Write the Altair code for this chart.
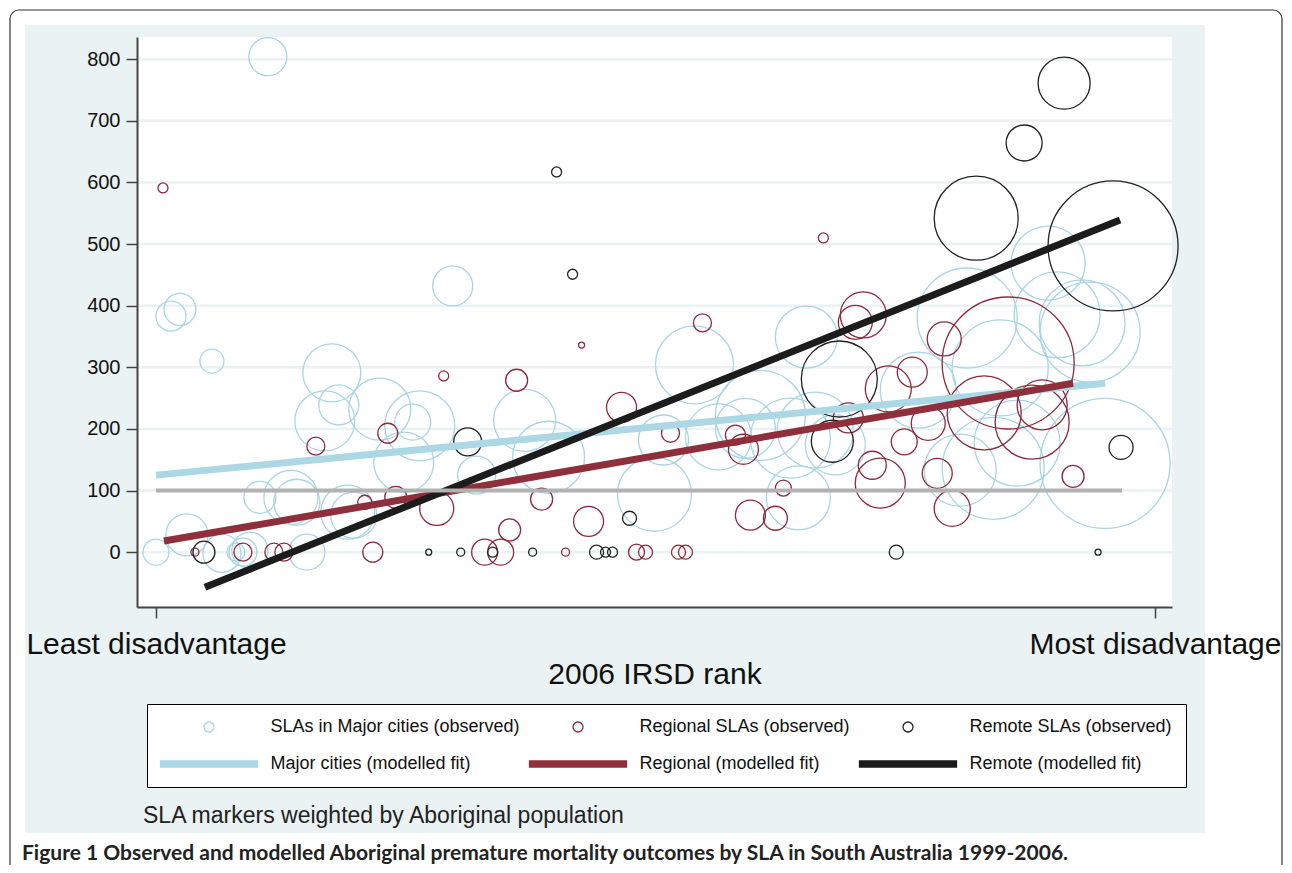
import json
import altair as alt
import pandas as pd

# ---------------- data ----------------
# x: IRSD rank on a 0-100 scale (0 = least disadvantage), y: premature mortality,
# pop: Aboriginal population weight (marker area)
major_x = [11.2, 2.4, 1.5, 29.7, 5.6, 17.6, 16.9, 18.3, 22.4, 25.7, 26.4, 24.8, 10.4, 13.5, 14.1,
           19.2, 19.8, 3.1, 0.0, 6.6, 8.7, 9.4, 15.1, 8.0, 36.9, 39.3, 32.1, 50.8, 49.9, 53.9,
           65.1, 56.3, 59.0, 60.5, 63.5, 66.0, 68.0, 64.3, 76.3, 81.2, 84.5, 89.3, 90.2, 92.7,
           93.5, 95.0, 83.8, 80.5, 86.2]
major_y = [804, 394, 383, 432, 310, 291, 213, 239, 232, 211, 205, 146, 89, 89, 81,
           65, 60, 28, 0, -2, 0, 3, 0, 0, 214, 154, 125, 182, 94, 304,
           349, 187, 201, 222, 185, 198, 174, 88, 263, 380, 299, 469, 385, 372,
           357, 144, 136, 133, 177]
major_pop = [361, 256, 225, 400, 144, 841, 900, 400, 961, 324, 1225, 900, 256, 729, 529,
             729, 529, 441, 169, 361, 196, 324, 324, 81, 961, 1296, 361, 625, 1369, 1521,
             961, 1089, 900, 2025, 1600, 1444, 900, 1024, 1444, 2500, 2304, 1369, 1849, 1849,
             2500, 4225, 2601, 1296, 1849]

regional_x = [0.7, 3.9, 8.7, 11.8, 12.8, 16.0, 23.2, 21.7, 20.9, 24.0, 28.8, 36.1, 42.6, 28.1,
              38.6, 35.4, 32.9, 34.5, 43.3, 41.0, 46.6, 48.1, 49.0, 51.5, 54.7, 52.3, 53.0,
              58.0, 58.8, 59.5, 62.0, 62.8, 66.8, 69.3, 70.8, 70.0, 71.7, 72.5, 73.3, 75.7,
              74.9, 78.9, 77.3, 78.2, 79.7, 85.3, 82.9, 87.7, 88.7, 91.8]
regional_y = [591, 0, 0, 0, 0, 172, 193, 0, 81, 89, 286, 279, 336, 71,
              86, 36, 0, 0, 50, 0, 235, 0, 0, 193, 372, 0, 0,
              190, 167, 60, 55, 104, 510, 218, 385, 373, 141, 112, 265, 292,
              179, 346, 209, 128, 71, 307, 226, 211, 239, 123]
regional_pop = [25, 16, 81, 81, 81, 81, 100, 100, 49, 121, 25, 121, 9, 289,
                121, 121, 169, 169, 225, 16, 225, 64, 49, 81, 81, 49, 49,
                100, 225, 225, 144, 64, 25, 225, 529, 289, 196, 625, 529, 225,
                169, 289, 289, 225, 324, 4356, 1369, 1369, 625, 121]

remote_x = [4.8, 31.2, 40.1, 41.7, 47.4, 27.3, 30.5, 33.7, 37.7, 44.1, 45.0, 45.7, 74.1, 94.3,
            96.6, 68.4, 67.7, 82.1, 86.9, 90.9, 95.8]
remote_y = [0, 179, 617, 451, 55, 0, 0, 0, 0, 0, 0, 0, 0, 0,
            170, 281, 180, 542, 664, 761, 497]
remote_pop = [121, 196, 25, 25, 49, 9, 16, 25, 16, 49, 25, 25, 49, 9,
              144, 1444, 441, 1764, 324, 676, 4225]

# modelled fits (end points of the straight fitted lines)
fit_major_x = [0.0, 95.0]
fit_major_y = [125, 274]
fit_regional_x = [0.8, 91.8]
fit_regional_y = [18, 274]
fit_remote_x = [4.9, 96.5]
fit_remote_y = [-57, 539]

# reference line at 100
ref_x = [0.0, 96.7]
ref_y = [100, 100]

y_ticks = [0, 100, 200, 300, 400, 500, 600, 700, 800]
x_ticks = [0, 100]
x_tick_labels = ["Least disadvantage", "Most disadvantage"]

obs_series = ["SLAs in Major cities (observed)", "Regional SLAs (observed)", "Remote SLAs (observed)"]
fit_series = ["Major cities (modelled fit)", "Regional (modelled fit)", "Remote (modelled fit)"]
# legend order (filled column by column: observed above modelled fit)
series = [obs_series[0], fit_series[0], obs_series[1], fit_series[1], obs_series[2], fit_series[2]]

note_text = "SLA markers weighted by Aboriginal population"
caption_text = ("Figure 1 Observed and modelled Aboriginal premature mortality outcomes by SLA "
                "in South Australia 1999-2006.")

# ---------------- tables ----------------
obs = pd.concat([
    pd.DataFrame({"rank": major_x, "rate": major_y, "pop": major_pop, "series": obs_series[0]}),
    pd.DataFrame({"rank": regional_x, "rate": regional_y, "pop": regional_pop, "series": obs_series[1]}),
    pd.DataFrame({"rank": remote_x, "rate": remote_y, "pop": remote_pop, "series": obs_series[2]}),
], ignore_index=True)

fits = pd.concat([
    pd.DataFrame({"rank": fit_major_x, "rate": fit_major_y, "series": fit_series[0]}),
    pd.DataFrame({"rank": fit_regional_x, "rate": fit_regional_y, "series": fit_series[1]}),
    pd.DataFrame({"rank": fit_remote_x, "rate": fit_remote_y, "series": fit_series[2]}),
], ignore_index=True)

ref = pd.DataFrame({"rank": ref_x, "rate": ref_y})
grid = pd.DataFrame({"rate": y_ticks})
one = pd.DataFrame({"k": [0]})

# ---------------- styling ----------------
W, H = 1035, 570
PANEL = "#eaf2f3"
LB_C, RED_C, BLK_C = "#a9d5e4", "#8e2a3c", "#222222"
LB_L, RED_L, BLK_L = "#acd8e6", "#8f2f3b", "#1c1c1c"
FONT = "Liberation Sans"
LINE_PATH = "M-9.7,-0.6H9.7V0.6H-9.7Z"

x_scale = alt.Scale(domain=[-1.9, 101.7], nice=False, zero=False)
y_scale = alt.Scale(domain=[-89, 836], nice=False, zero=False)

x_axis = alt.Axis(values=x_ticks, grid=False, title="2006 IRSD rank",
                  labelExpr=f"{json.dumps(x_tick_labels)}[datum.value == 0 ? 0 : 1]",
                  labelFont=FONT, labelFontSize=30, labelColor="#111", labelPadding=11,
                  labelOverlap=False, labelFlush=False, labelBound=False, labelLimit=600,
                  tickSize=11, tickColor="#444", tickWidth=1.5,
                  domainColor="#444", domainWidth=2,
                  titleFont=FONT, titleFontSize=30, titleFontWeight="normal",
                  titleColor="#111", titlePadding=0, zindex=1)
y_axis = alt.Axis(values=y_ticks, grid=False, title=None,
                  labelFont=FONT, labelFontSize=20, labelColor="#111", labelPadding=6,
                  tickSize=11, tickColor="#444", tickWidth=1.5,
                  domainColor="#444", domainWidth=2, zindex=1)

legend = alt.Legend(title=None, orient="none", legendX=10, legendY=667, columns=3,
                    columnPadding=6, rowPadding=19, padding=14,
                    strokeColor="#000", fillColor="white",
                    labelFont=FONT, labelFontSize=18, labelColor="#111", labelLimit=500,
                    symbolSize=100, symbolStrokeWidth=1.3, symbolOffset=39,
                    labelOffset=52.5)

stroke_scale = alt.Scale(domain=series, range=[LB_C, LB_L, RED_C, RED_L, BLK_C, BLK_L])
fill_scale = alt.Scale(domain=series, range=["transparent", LB_L, "transparent", RED_L,
                                             "transparent", BLK_L])
shape_scale = alt.Scale(domain=series, range=["circle", LINE_PATH] * 3)

# ---------------- layers ----------------
panel = alt.Chart(one).mark_rect(color=PANEL).encode(
    x=alt.value(-112), x2=alt.value(1068), y=alt.value(-12), y2=alt.value(796))
border = alt.Chart(one).mark_rect(fillOpacity=0, stroke="#333", strokeWidth=1.2,
                                  cornerRadius=9).encode(
    x=alt.value(-127), x2=alt.value(1145), y=alt.value(-27), y2=alt.value(880))
plot_bg = alt.Chart(one).mark_rect(color="white").encode(
    x=alt.value(0), x2=alt.value(W), y=alt.value(0), y2=alt.value(H))

gridlines = alt.Chart(grid).mark_rule(color=PANEL, strokeWidth=2.5).encode(
    y=alt.Y("rate:Q", scale=y_scale, axis=y_axis))

points = alt.Chart(obs).mark_point(strokeWidth=1.3, opacity=1).encode(
    x=alt.X("rank:Q", scale=x_scale, axis=x_axis),
    y=alt.Y("rate:Q", scale=y_scale, axis=y_axis),
    size=alt.Size("pop:Q", scale=alt.Scale(domain=[0, 4356], range=[0, 17424], zero=True),
                  legend=None),
    stroke=alt.Stroke("series:N", scale=stroke_scale, legend=legend),
    fill=alt.Fill("series:N", scale=fill_scale, legend=legend),
    shape=alt.Shape("series:N", scale=shape_scale, legend=legend),
)

fit_lines = alt.Chart(fits).mark_line(strokeWidth=7, strokeCap="butt").encode(
    x=alt.X("rank:Q", scale=x_scale, axis=x_axis),
    y=alt.Y("rate:Q", scale=y_scale, axis=y_axis),
    stroke=alt.Stroke("series:N", scale=stroke_scale, legend=legend),
    order="rank:Q",
)

ref_line = alt.Chart(ref).mark_line(color="#b2b2b2", strokeWidth=4, strokeCap="butt").encode(
    x=alt.X("rank:Q", scale=x_scale, axis=x_axis),
    y=alt.Y("rate:Q", scale=y_scale, axis=y_axis),
)

note = alt.Chart(one).mark_text(text=note_text, align="left", baseline="alphabetic",
                                font=FONT, fontSize=23, color="#222").encode(
    x=alt.value(6), y=alt.value(786))
caption = alt.Chart(one).mark_text(text=caption_text, align="left", baseline="alphabetic",
                                   font="Lato", fontSize=21, fontWeight="bold",
                                   color="#222").encode(
    x=alt.value(-115), y=alt.value(823))

chart = alt.layer(panel, border, plot_bg, gridlines, points, fit_lines, ref_line, note, caption
                  ).properties(
    width=W, height=H,
    autosize=alt.AutoSizeParams(type="none"),
    padding={"left": 129, "top": 29, "right": 112, "bottom": 258},
    background="white",
).configure_view(strokeWidth=0)

chart.save("out.html", embed_options={"renderer": "svg", "actions": False})
